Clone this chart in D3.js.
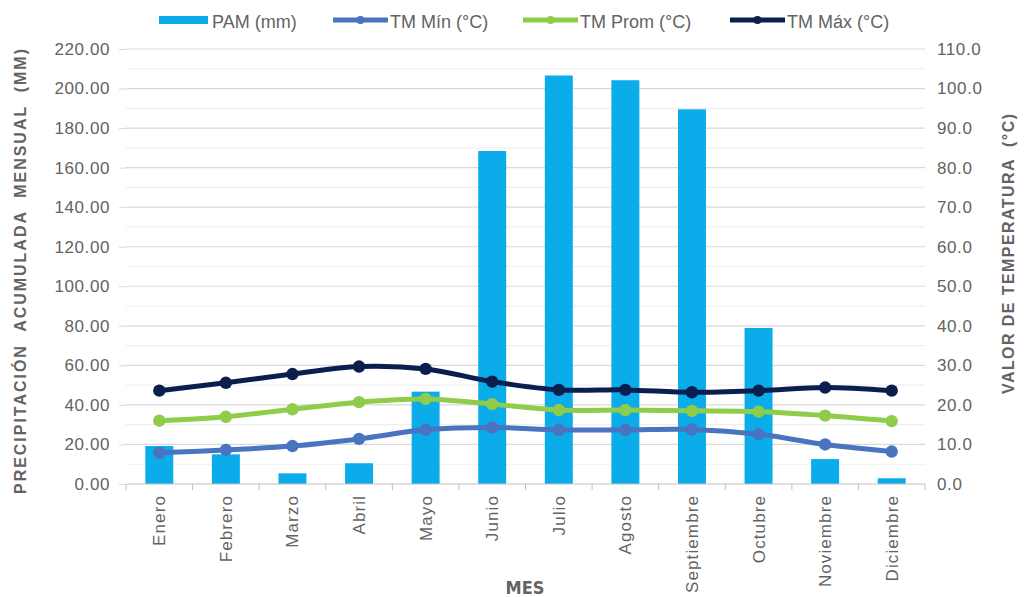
<!DOCTYPE html>
<html>
<head>
<meta charset="utf-8">
<script src="https://cdn.jsdelivr.net/npm/d3@7"></script>
<style>
  html, body { margin: 0; padding: 0; background: #fff; }
  svg { display: block; font-family: "Liberation Sans", Arial, sans-serif; }
</style>
</head>
<body>
<svg id="chart" width="1026" height="597"></svg>
<script>
// Meses del año
const months = ["Enero", "Febrero", "Marzo", "Abril", "Mayo", "Junio", "Julio",
  "Agosto", "Septiembre", "Octubre", "Noviembre", "Diciembre"];

// Precipitación acumulada mensual (mm)
const pam = [19.2, 15.0, 5.4, 10.5, 46.7, 168.4, 206.6, 204.2, 189.5, 78.9, 12.6, 2.9];

// Temperaturas medias (°C)
const tmMin  = [7.9, 8.6, 9.6, 11.4, 13.7, 14.3, 13.7, 13.7, 13.8, 12.6, 10.0, 8.2];
const tmProm = [16.0, 17.0, 18.9, 20.7, 21.5, 20.2, 18.7, 18.7, 18.5, 18.3, 17.3, 15.9];
const tmMax  = [23.6, 25.6, 27.8, 29.7, 29.1, 25.9, 23.8, 23.8, 23.2, 23.6, 24.4, 23.6];

// Marcas de los ejes
const leftTicks  = [0, 20, 40, 60, 80, 100, 120, 140, 160, 180, 200, 220];
const rightTicks = [0, 10, 20, 30, 40, 50, 60, 70, 80, 90, 100, 110];
const leftMinor  = [10, 30, 50, 70, 90, 110, 130, 150, 170, 190, 210];

const series = [
  { name: "TM Máx (°C)",  values: tmMax,  color: "#0b1f4f" },
  { name: "TM Prom (°C)", values: tmProm, color: "#8fcc4a" },
  { name: "TM Mín (°C)",  values: tmMin,  color: "#4a73c0" }
];
const barColor = "#0aacea";
const textColor = "#636363";

const svg = d3.select("#chart");
const L = 126, R = 925, T = 49, B = 484;

const x = d3.scaleBand().domain(months).range([L, R]).paddingInner(0.58).paddingOuter(0.29);
const yL = d3.scaleLinear().domain([0, 220]).range([B, T]);
const yR = d3.scaleLinear().domain([0, 110]).range([B, T]);

// Líneas de cuadrícula
svg.append("g").selectAll("line.minor").data(leftMinor).join("line")
  .attr("x1", L).attr("x2", R)
  .attr("y1", d => yL(d)).attr("y2", d => yL(d))
  .attr("stroke", "#efefef").attr("stroke-width", 1.2);
svg.append("g").selectAll("line.major").data(leftTicks.filter(d => d > 0)).join("line")
  .attr("x1", L).attr("x2", R)
  .attr("y1", d => yL(d)).attr("y2", d => yL(d))
  .attr("stroke", "#d9d9d9").attr("stroke-width", 1.2);

// Eje izquierdo
const axL = svg.append("g").attr("transform", `translate(${L},0)`)
  .call(d3.axisLeft(yL).tickValues(leftTicks).tickFormat(d3.format(".2f")).tickSize(7).tickPadding(9));
axL.select(".domain").remove();
axL.selectAll(".tick line").attr("stroke", "#d9d9d9");
axL.selectAll("text").attr("fill", textColor).attr("font-size", 17).style("letter-spacing", "0.6px");

// Eje derecho
const axR = svg.append("g").attr("transform", `translate(${R},0)`)
  .call(d3.axisRight(yR).tickValues(rightTicks).tickFormat(d3.format(".1f")).tickSize(0).tickPadding(12));
axR.select(".domain").remove();
axR.selectAll("text").attr("fill", textColor).attr("font-size", 17).style("letter-spacing", "0.6px");

// Barras de precipitación
svg.append("g").selectAll("rect").data(pam).join("rect")
  .attr("x", (d, i) => x(months[i]))
  .attr("width", x.bandwidth())
  .attr("y", d => yL(d))
  .attr("height", d => yL(0) - yL(d))
  .attr("fill", barColor);

// Eje inferior
const axB = svg.append("g").attr("transform", `translate(0,${B})`);
axB.append("line").attr("x1", L).attr("x2", R).attr("y1", 0).attr("y2", 0)
  .attr("stroke", "#bfbfbf").attr("stroke-width", 1.2);
const step = x.step();
axB.selectAll("line.tk").data(d3.range(months.length + 1)).join("line")
  .attr("x1", i => L + i * step).attr("x2", i => L + i * step)
  .attr("y1", 0).attr("y2", 6).attr("stroke", "#bfbfbf");
axB.selectAll("text").data(months).join("text")
  .attr("transform", d => `translate(${x(d) + x.bandwidth() / 2 + 6},11) rotate(-90)`)
  .attr("text-anchor", "end")
  .attr("fill", textColor).attr("font-size", 17)
  .style("letter-spacing", "1.1px")
  .text(d => d);

// Series de temperatura
const line = d3.line()
  .x((d, i) => x(months[i]) + x.bandwidth() / 2)
  .y(d => yR(d))
  .curve(d3.curveCatmullRom.alpha(0.5));

series.forEach(s => {
  const g = svg.append("g");
  g.append("path").datum(s.values).attr("d", line)
    .attr("fill", "none").attr("stroke", s.color).attr("stroke-width", 5)
    .attr("stroke-linejoin", "round");
  g.selectAll("circle").data(s.values).join("circle")
    .attr("cx", (d, i) => x(months[i]) + x.bandwidth() / 2)
    .attr("cy", d => yR(d))
    .attr("r", 6.2).attr("fill", s.color);
});

// Títulos de ejes
svg.append("text")
  .attr("transform", `translate(26,${(48 + 495) / 2}) rotate(-90)`)
  .attr("text-anchor", "middle").attr("font-size", 16).attr("font-weight", "bold")
  .attr("fill", textColor)
  .attr("textLength", 445).attr("lengthAdjust", "spacing")
  .style("white-space", "pre")
  .text("PRECIPITACIÓN  ACUMULADA  MENSUAL  (MM)");

svg.append("text")
  .attr("transform", `translate(1014,254) rotate(-90)`)
  .attr("text-anchor", "middle").attr("font-size", 16).attr("font-weight", "bold")
  .attr("fill", textColor)
  .attr("textLength", 280).attr("lengthAdjust", "spacing")
  .style("white-space", "pre")
  .text("VALOR DE TEMPERATURA  (°C)");

svg.append("text")
  .attr("x", 525).attr("y", 594)
  .attr("text-anchor", "middle").attr("font-size", 18).attr("font-weight", "bold")
  .attr("font-family", "'Liberation Sans Narrow', 'DejaVu Sans Condensed', sans-serif")
  .attr("fill", textColor)
  .text("MES");

// Leyenda
const legend = svg.append("g");
legend.append("rect").attr("x", 159).attr("y", 16).attr("width", 49).attr("height", 8).attr("fill", barColor);
legend.append("text").attr("x", 212).attr("y", 28).attr("font-size", 18).attr("fill", textColor)
  .text("PAM (mm)");

const legendLines = [
  { s: series[2], x1: 333, x2: 388, tx: 390 },
  { s: series[1], x1: 523, x2: 578, tx: 580 },
  { s: series[0], x1: 730, x2: 785, tx: 787 }
];
legendLines.forEach(d => {
  legend.append("line").attr("x1", d.x1).attr("x2", d.x2).attr("y1", 20).attr("y2", 20)
    .attr("stroke", d.s.color).attr("stroke-width", 5);
  legend.append("circle").attr("cx", (d.x1 + d.x2) / 2).attr("cy", 20).attr("r", 4).attr("fill", d.s.color);
  legend.append("text").attr("x", d.tx).attr("y", 28).attr("font-size", 18).attr("fill", textColor)
    .text(d.s.name);
});
</script>
</body>
</html>
